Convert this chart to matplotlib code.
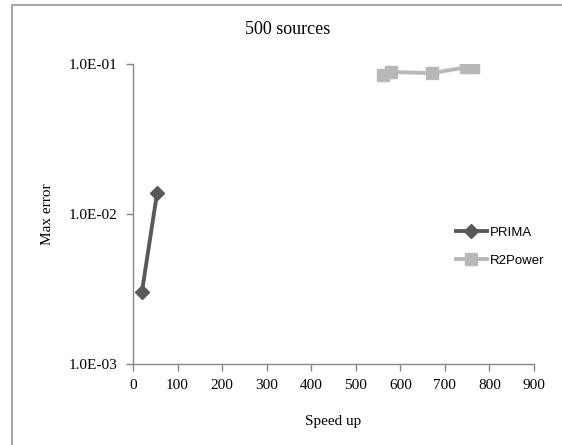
import matplotlib
matplotlib.use("Agg")
import matplotlib.pyplot as plt
from matplotlib.patches import Rectangle
from matplotlib.ticker import FixedLocator, NullLocator

title = "500 sources"
xlabel = "Speed up"
ylabel = "Max error"

prima_x = [20, 54]
prima_y = [0.00302, 0.0138]

r2_x = [561, 578, 671, 747, 763]
r2_y = [0.0845, 0.0885, 0.0870, 0.0950, 0.0960]

xticks = [0, 100, 200, 300, 400, 500, 600, 700, 800, 900]
yticks = [1e-3, 1e-2, 1e-1]
ytick_labels = ["1.0E-03", "1.0E-02", "1.0E-01"]

W, H = 562, 445
fig = plt.figure(figsize=(W / 100, H / 100), dpi=100)
fig.patch.set_facecolor("white")

# outer chart frame (left/top visible)
fig.patches.append(Rectangle((12 / W, -0.1), 1.2, (H - 5) / H + 0.1,
                             transform=fig.transFigure, fill=False,
                             edgecolor="#a6a6a6", linewidth=1.5))

l, r, t, b = 133, 534, 64, 364
ax = fig.add_axes([l / W, 1 - b / H, (r - l) / W, (b - t) / H])
ax.set_yscale("log")
ax.set_xlim(0, 900)
ax.set_ylim(1e-3, 1e-1)

serif = "Liberation Serif"
ax.plot(prima_x, prima_y, color="#595959", lw=2.8, marker="D", ms=7.5,
        label="PRIMA")
ax.plot(r2_x, r2_y, color="#b8b8b8", lw=2.8, marker="s", ms=8.5,
        label="R2Power")

for s in ["top", "right"]:
    ax.spines[s].set_visible(False)
for s in ["left", "bottom"]:
    ax.spines[s].set_color("#868686")
    ax.spines[s].set_linewidth(1.0)

ax.xaxis.set_major_locator(FixedLocator(xticks))
ax.set_xticklabels([str(v) for v in xticks], fontfamily=serif, fontsize=11)
ax.yaxis.set_major_locator(FixedLocator(yticks))
ax.yaxis.set_minor_locator(NullLocator())
ax.set_yticklabels(ytick_labels, fontfamily=serif, fontsize=11)
ax.tick_params(axis="both", which="major", color="#868686", length=5,
               width=1.0, direction="out", pad=6)

ax.set_xlabel(xlabel, fontfamily=serif, fontsize=11, labelpad=16)
ax.set_ylabel(ylabel, fontfamily=serif, fontsize=11, labelpad=11)
fig.text(288 / W, 1 - 30 / H, title, ha="center", va="center",
         fontfamily=serif, fontsize=13)

leg = ax.legend(loc="upper left", bbox_to_anchor=((449 - l) / (r - l), 1 - (220 - t) / (b - t)),
                frameon=False, prop={"family": "Liberation Sans", "size": 9.5},
                handlelength=2.4, labelspacing=1.2, handletextpad=0.2,
                borderpad=0)

fig.savefig("out.png", dpi=100, facecolor="white")
